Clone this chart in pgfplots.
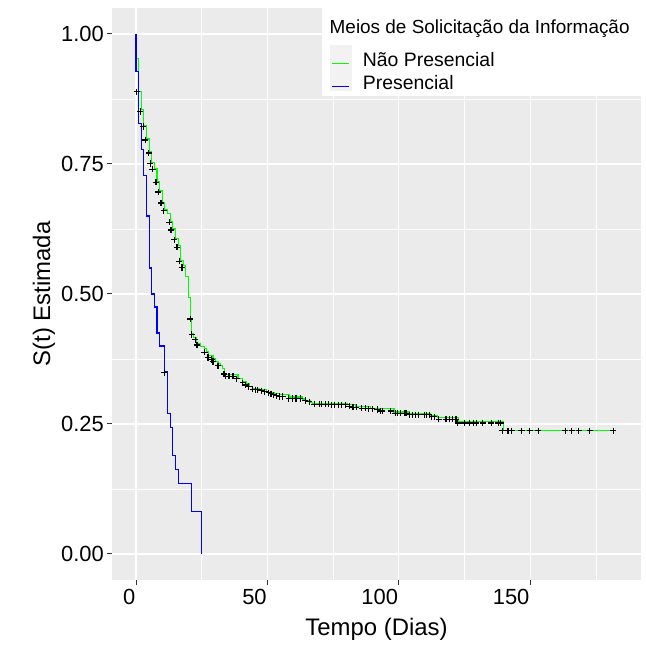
\documentclass[border=0pt]{standalone}
\usepackage{pgfplots}
\pgfplotsset{compat=1.18}
\usepackage{fontspec}
\setmainfont{Liberation Sans}
\definecolor{panelgrey}{HTML}{EBEBEB}
\definecolor{keygrey}{HTML}{F2F2F2}
\definecolor{kmgreen}{HTML}{00FF00}
\definecolor{kmblue}{HTML}{0000FF}
\begin{document}
\begin{tikzpicture}[x=1bp,y=1bp]
\path[use as bounding box] (-112,-65) rectangle (533,580);
\begin{axis}[
  at={(0,0)}, anchor=south west,
  scale only axis, width=529bp, height=572bp,
  xmin=-9.14, xmax=192.2, ymin=-0.05, ymax=1.05,
  clip=false,
  axis background/.style={fill=panelgrey},
  axis line style={draw=none},
  grid=both,
  major grid style={white, line width=1.1bp},
  minor grid style={white, line width=0.55bp},
  xtick={0,50,100,150}, minor xtick={25,75,125,175},
  ytick={0,0.25,0.5,0.75,1}, minor ytick={0.125,0.375,0.625,0.875},
  tick align=outside, tick pos=left,
  major tick length=5bp, minor tick length=0pt,
  tick style={color=black!80, line width=1bp},
  every tick label/.append style={font=\fontsize{22}{26}\selectfont, text=black},
  xticklabel style={/pgf/number format/assume math mode=true, anchor=north east, inner sep=0pt, xshift=-0.5bp, yshift=-4bp},
  yticklabel style={/pgf/number format/.cd, fixed, fixed zerofill, precision=2, assume math mode=true, /tikz/.cd, inner sep=0pt, xshift=-3bp},
  xlabel={Tempo (Dias)},
  ylabel={S(t) Estimada},
  every axis x label/.style={at={(axis description cs:0.5,-0.0865)}, anchor=center, font=\fontsize{24}{28}\selectfont},
  every axis y label/.style={at={(axis description cs:-0.1285,0.5)}, anchor=center, rotate=90, font=\fontsize{24}{28}\selectfont},
  legend style={at={(rel axis cs:0.4159,0.9240)}, anchor=north west, draw=none, fill=none,
    inner sep=0pt, outer sep=0pt, row sep=0pt, column sep=13bp,
    font=\fontsize{19.5}{23}\selectfont,
    nodes={inner sep=0pt, text height=15bp, text depth=8bp}},
  legend cell align=left,
  legend image code/.code={\draw[line width=0.9bp] (0bp,0bp) -- (17bp,0bp);},
]
% legend background, title and key
\fill[white] (rel axis cs:0.397,0.846) rectangle (rel axis cs:1.0076,1.0);
\fill[keygrey] (rel axis cs:0.4112,0.8549) rectangle (rel axis cs:0.4537,0.9353);
\node[anchor=base west, inner sep=0pt, font=\fontsize{19}{23}\selectfont] at (rel axis cs:0.4112,0.9549) {Meios de Solicitação da Informação};

% Nao Presencial
\addplot[const plot, color=kmgreen, line width=1.1bp] coordinates {
(0,1)(0,0.953)(1,0.89)(2,0.854)(3,0.824)(4,0.798)(5,0.774)(6,0.753)(7,0.742)(8,0.717)(9,0.698)(10,0.676)(11,0.662)(12,0.654)(13,0.639)(14,0.625)(15,0.607)(16,0.593)(17,0.564)(18,0.554)(19,0.534)(20,0.494)(20.8,0.452)(21.2,0.424)(22,0.417)(23,0.405)(24.5,0.399)(26,0.396)(26.8,0.39)(27.7,0.381)(29.3,0.376)(30.2,0.371)(31.2,0.367)(32.1,0.362)(32.8,0.357)(33.7,0.345)(38.8,0.337)(40.6,0.331)(41.9,0.327)(43.2,0.322)(44.4,0.319)(47,0.316)(49.5,0.311)(51.4,0.31)(52.7,0.308)(54.5,0.306)(58.3,0.302)(63.4,0.298)(64.6,0.296)(66.5,0.292)(67.2,0.29)(80.4,0.288)(81,0.287)(83.6,0.284)(86.7,0.283)(89.3,0.28)(96.2,0.279)(98.2,0.273)(103.9,0.27)(112.2,0.266)(114.8,0.262)(122.8,0.254)(139.7,0.238)(181,0.238)
};
\addlegendentry{Não Presencial}
% Presencial
\addplot[const plot, color=kmblue, line width=1.1bp] coordinates {
(0,1)(0,0.927)(1,0.827)(2,0.777)(3,0.727)(4,0.65)(5,0.55)(6,0.5)(7,0.475)(8,0.425)(9,0.40)(11,0.35)(12,0.27)(13,0.243)(14,0.189)(15,0.162)(16,0.135)(21,0.081)(25,0)
};
\addlegendentry{Presencial}
% censor marks
\addplot[only marks, mark=+, mark size=3.1bp, mark options={line width=1.15bp, color=black}, forget plot] coordinates {
(10.7,0.349)
(0.3,0.889)(1.6,0.851)(2.7,0.822)(3.5,0.796)(4.8,0.771)(5.4,0.751)(6.3,0.74)(7.6,0.715)(8.5,0.696)(9.5,0.675)(10.6,0.66)(12.6,0.638)(13.3,0.623)(14.5,0.604)(15.6,0.59)(16.4,0.563)(17.5,0.551)(20.6,0.452)(21.2,0.422)(22.6,0.412)(23.2,0.402)
(26.1,0.388)(27.4,0.378)(28.7,0.374)(29.3,0.37)(31.2,0.362)(33.5,0.346)(34.1,0.342)(35.4,0.342)(36.9,0.342)(38.4,0.337)(40.6,0.329)(41.7,0.325)(42.9,0.322)(44.4,0.317)(45.5,0.316)(46.3,0.316)(47.6,0.314)(48.9,0.312)(50.5,0.31)(51.4,0.308)(52.3,0.306)(53.5,0.304)(54.5,0.303)(55.8,0.303)(58.1,0.299)(59.6,0.299)(60.9,0.299)(62.5,0.299)(64.4,0.295)(65.9,0.293)(67.8,0.288)(69.7,0.288)(70.7,0.288)(72,0.288)(73.2,0.288)(74.5,0.287)(75.4,0.287)(77,0.287)(78.3,0.287)(79.8,0.287)(81.1,0.284)(82.6,0.282)(83.8,0.282)(85.9,0.28)(87.4,0.28)(88.6,0.279)(89.9,0.279)(91.8,0.278)
(93.1,0.275)(93.7,0.275)(96.9,0.275)(98.6,0.271)(99.4,0.271)(100.7,0.271)(102.4,0.271)(103,0.271)(104.2,0.268)(105.2,0.268)(106.5,0.268)(107.5,0.268)(109.7,0.268)(110.7,0.268)(111.6,0.268)(112.6,0.264)(113.5,0.264)(115.2,0.259)(118,0.259)(119.2,0.259)(120.5,0.259)(121.8,0.259)(122.5,0.252)(125,0.252)(126.9,0.252)(128.6,0.252)(129.5,0.252)(132,0.252)(135.2,0.252)(137.8,0.252)(138.7,0.252)(139.4,0.237)(141.6,0.237)(142.9,0.237)(146.7,0.237)(149.9,0.237)(153.1,0.237)(163.3,0.237)(165.9,0.237)(168.5,0.237)(172.7,0.237)(181.6,0.237)
};
\end{axis}
\end{tikzpicture}
\end{document}
